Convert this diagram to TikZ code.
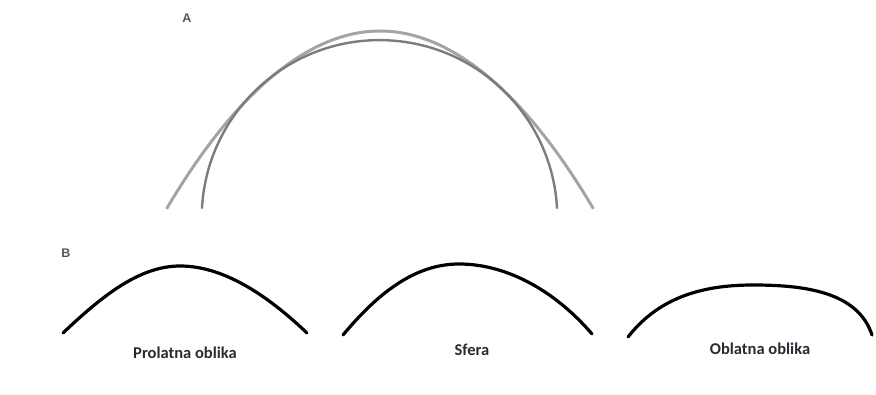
\documentclass[tikz,border=0pt]{standalone}
\usepackage{fontspec}
\setmainfont{Carlito}
\newfontfamily\panelfont{Liberation Sans}
\usepackage{tikz}
\usetikzlibrary{positioning}
\definecolor{ink}{HTML}{2A2A33}
\definecolor{pale}{HTML}{A4A4A4}
\definecolor{mid}{HTML}{7C7C7C}
\definecolor{tagcol}{HTML}{555555}

\begin{document}
\begin{tikzpicture}[x=1pt,y=1pt,
   profile/.style={draw=black,line width=3.2pt,line cap=round},
   caption/.style={font=\bfseries\fontsize{16.5}{18}\selectfont,text=ink},
   paneltag/.style={font=\panelfont\bfseries\fontsize{12.5}{14}\selectfont,text=tagcol}]
  \useasboundingbox (0,0) rectangle (876,-395);
  % panel A: prolate over sphere
  \node[paneltag] (A) at (187,-18) {A};
  \draw[pale,line width=3pt,line cap=round] (167,-208) parabola bend (380,-31) (593,-208);
  \draw[mid,line width=2.4pt,line cap=round] (202,-208) arc[start angle=176.8,end angle=3.2,radius=177.8];
  % panel B: three profiles
  \node[paneltag] (B) at (66,-253) {B};
  \draw[profile] (63,-333) .. controls (103,-295) and (140,-266) .. (180,-266)
                           .. controls (222,-266) and (265,-293) .. (307,-333);
  \draw[profile] (343,-335) .. controls (378,-293) and (415,-264) .. (459,-264)
                            .. controls (508,-264) and (556,-292) .. (592,-334);
  \draw[profile] (628,-337) .. controls (660,-296) and (705,-285) .. (753,-285)
                            .. controls (805,-285) and (858,-292) .. (872,-335);
  \node[caption] (prolate) at (185,-353) {Prolatna oblika};
  \node[caption] (sphere) at (472,-350) {Sfera};
  \node[caption] (oblate) at (760,-349) {Oblatna oblika};
\end{tikzpicture}
\end{document}
